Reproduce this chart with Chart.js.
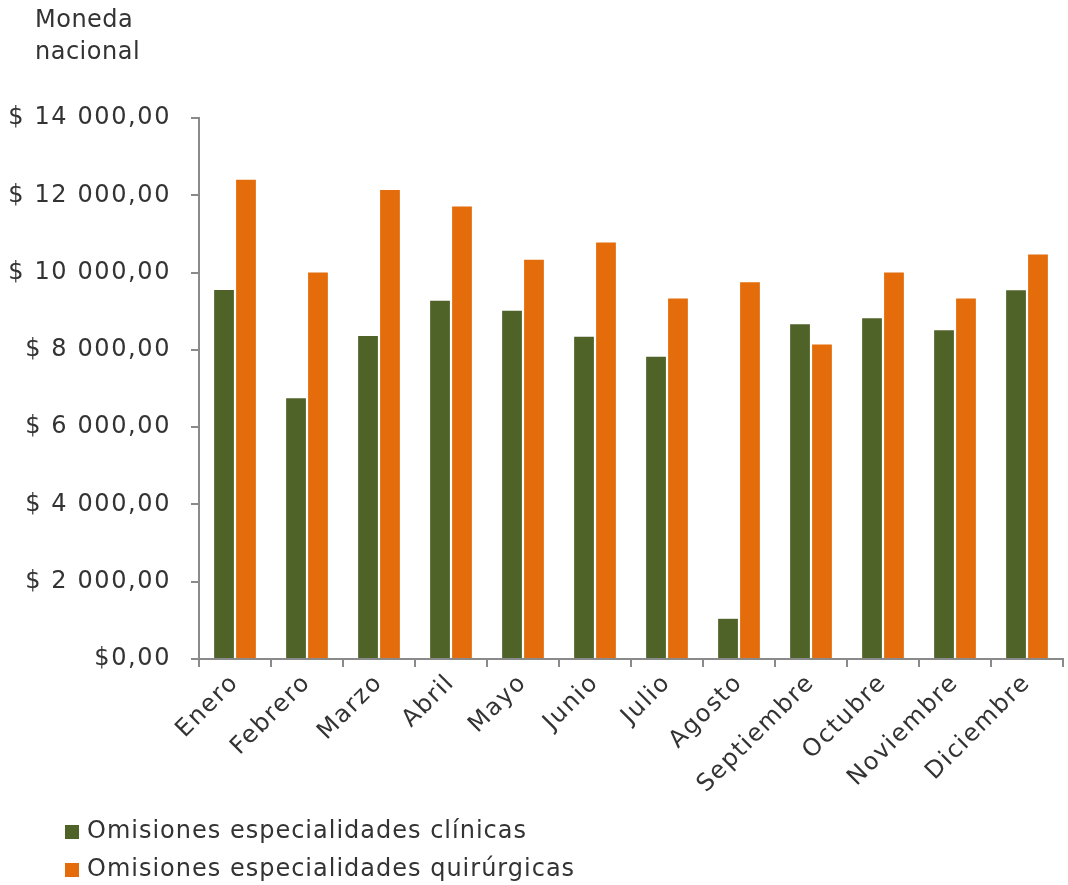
<!DOCTYPE html>
<html>
<head>
<meta charset="utf-8">
<script src="https://cdn.jsdelivr.net/npm/chart.js@4/dist/chart.umd.min.js"></script>
<style>
  html, body { margin: 0; padding: 0; background: #fff; }
  #wrap { position: relative; width: 1068px; height: 885px; }
  #chart { position: absolute; left: 0; top: 0; }
  .txt { font-family: "DejaVu Sans", Verdana, sans-serif; font-size: 24px; color: #333; letter-spacing: 1px; }
  #unit { position: absolute; left: 35px; top: 3px; line-height: 32px; letter-spacing: 0.5px; }
  #legend { position: absolute; left: 65px; top: 811px; line-height: 38px; }
  #legend .sw { display: inline-block; width: 14px; height: 14px; margin-right: 8px; vertical-align: -1px; }
</style>
</head>
<body>
<div id="wrap">
  <canvas id="chart" width="1068" height="885"></canvas>
  <div id="unit" class="txt">Moneda<br>nacional</div>
  <div id="legend" class="txt"></div>
</div>
<script>
/* ── Data ───────────────────────────────────────────────── */
const months = ["Enero", "Febrero", "Marzo", "Abril", "Mayo", "Junio",
                "Julio", "Agosto", "Septiembre", "Octubre", "Noviembre", "Diciembre"];
const clinicas    = [9550, 6750, 8360, 9270, 9010, 8340, 7820, 1040, 8660, 8820, 8510, 9540];
const quirurgicas = [12400, 10000, 12140, 11710, 10330, 10780, 9330, 9750, 8140, 10000, 9330, 10470];
const yTickValues = [0, 2000, 4000, 6000, 8000, 10000, 12000, 14000];
const yTickLabels = ["$0,00", "$ 2 000,00", "$ 4 000,00", "$ 6 000,00",
                     "$ 8 000,00", "$ 10 000,00", "$ 12 000,00", "$ 14 000,00"];
const seriesNames  = ["Omisiones especialidades clínicas", "Omisiones especialidades quirúrgicas"];
const seriesColors = ["#4f6228", "#e46c0a"];

/* ── Style tokens ───────────────────────────────────────── */
const FONT = { family: "'DejaVu Sans', Verdana, sans-serif", size: 24 };
const TEXT = "#333333";
const AXIS = "#8a8a8a";

// wider tracking, like the Verdana-style labels of the original
const spacing = {
  id: "spacing",
  beforeInit: c => { c.ctx.letterSpacing = "1.6px"; },
  beforeDraw: c => { c.ctx.letterSpacing = "1.6px"; },
};

/* ── Chart ──────────────────────────────────────────────── */
new Chart(document.getElementById("chart"), {
  type: "bar",
  plugins: [spacing],
  data: {
    labels: months,
    datasets: [
      { label: seriesNames[0], data: clinicas,    backgroundColor: seriesColors[0] },
      { label: seriesNames[1], data: quirurgicas, backgroundColor: seriesColors[1] },
    ],
  },
  options: {
    responsive: false,
    animation: false,
    categoryPercentage: 0.61,
    barPercentage: 0.9,
    layout: { padding: { top: 118, right: 5, bottom: 76, left: 0 } },
    plugins: {
      legend:  { display: false },
      tooltip: { enabled: false },
    },
    scales: {
      x: {
        grid:   { drawOnChartArea: false, color: AXIS, lineWidth: 2, tickLength: 8 },
        border: { color: AXIS, width: 2 },
        ticks:  { color: TEXT, font: FONT, maxRotation: 45, minRotation: 45, autoSkip: false, padding: 2 },
        afterFit: s => { s.height = 150; },
      },
      y: {
        min: 0,
        max: 14000,
        afterBuildTicks: s => { s.ticks = yTickValues.map(v => ({ value: v })); },
        grid:   { drawOnChartArea: false, color: AXIS, lineWidth: 2, tickLength: 8 },
        border: { color: AXIS, width: 2 },
        ticks:  {
          color: TEXT,
          font:  FONT,
          padding: 20,
          callback: v => yTickLabels[yTickValues.indexOf(v)],
        },
        afterFit: s => { s.width = 199; },
      },
    },
  },
});

/* ── Legend (one row per series) ────────────────────────── */
document.getElementById("legend").innerHTML = seriesNames
  .map((n, i) => `<div><span class="sw" style="background:${seriesColors[i]}"></span>${n}</div>`)
  .join("");
</script>
</body>
</html>
